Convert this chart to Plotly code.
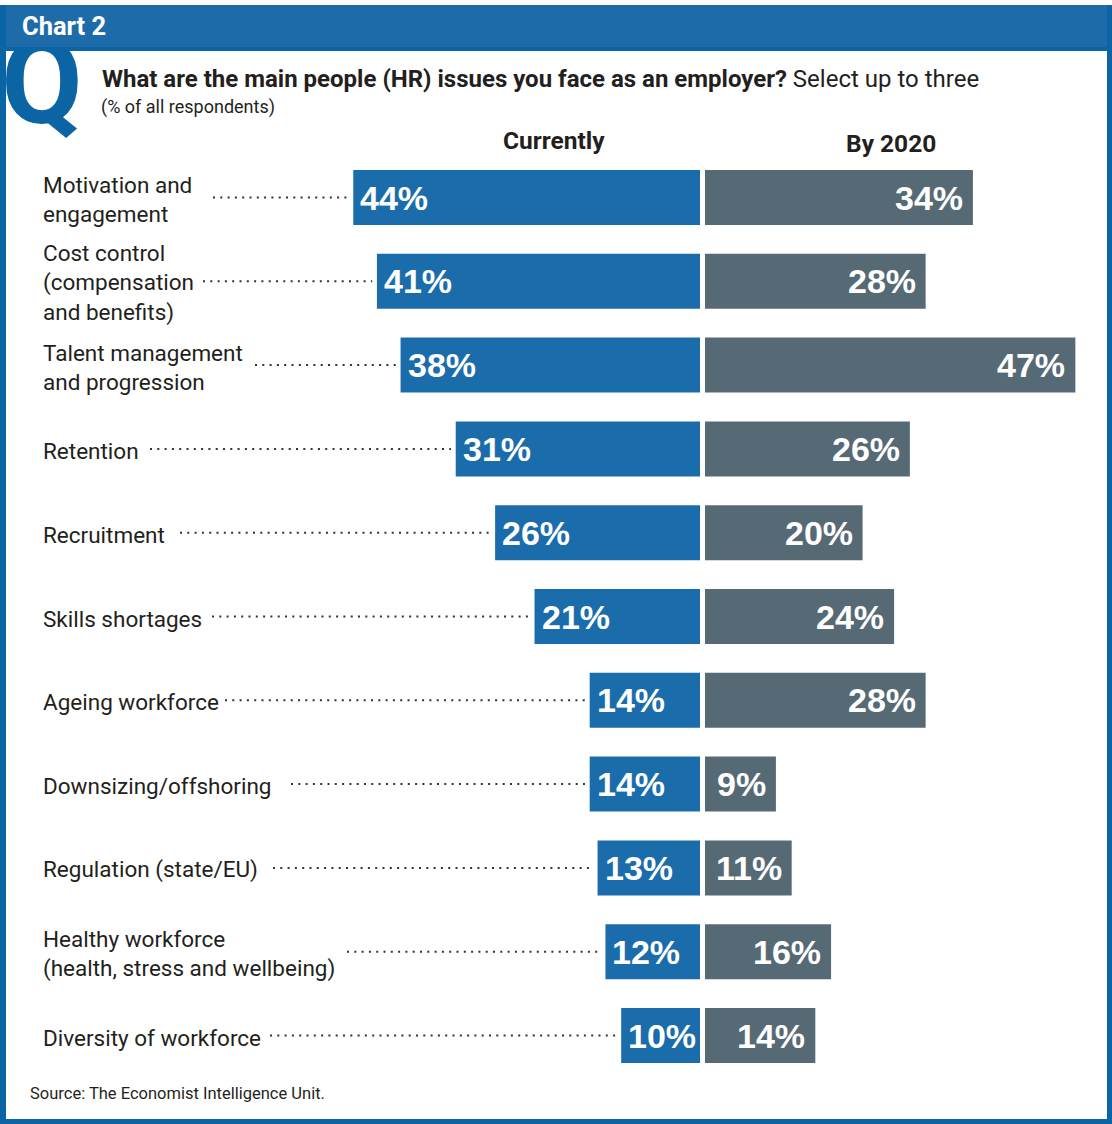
import plotly.graph_objects as go

# ---- data -----------------------------------------------------------------
categories = [
    "Motivation and<br>engagement",
    "Cost control<br>(compensation<br>and benefits)",
    "Talent management<br>and progression",
    "Retention",
    "Recruitment",
    "Skills shortages",
    "Ageing workforce",
    "Downsizing/offshoring",
    "Regulation (state/EU)",
    "Healthy workforce<br>(health, stress and wellbeing)",
    "Diversity of workforce",
]
currently = [44, 41, 38, 31, 26, 21, 14, 14, 13, 12, 10]
by_2020 = [34, 28, 47, 26, 20, 24, 28, 9, 11, 16, 14]
series_names = ["Currently", "By 2020"]

# ---- geometry / style -----------------------------------------------------
W, H = 1112, 1124
CENTER_L, CENTER_R = 700, 705       # inner edges of the two bar columns (px)
PX_PER_PCT = 7.88
ROW0, ROW_STEP, BAR_PX = 197.5, 83.8, 55
LABEL_X = 41
LEADER_START = [213, 203, 255, 150, 180, 212, 225, 291, 273, 347, 270]

BLUE = "#1b6caa"
GREY = "#566a76"
HEADER = "#1d6ca9"
FRAME = "#0b65a4"
TEXT = "#231f20"

LABEL_FONT = "Roboto"
VALUE_FONT = "Liberation Sans"


def px_x(px):
    return px / W


def px_y(px):
    return 1 - px / H


left_range = [CENTER_L / PX_PER_PCT, 0]
right_range = [0, (W - CENTER_R) / PX_PER_PCT]
y_range = [(H - ROW0) / ROW_STEP, -ROW0 / ROW_STEP]
rows = list(range(len(categories)))
bar_w = BAR_PX / ROW_STEP


def left_units(px):
    return (CENTER_L - px) / PX_PER_PCT


fig = go.Figure()

# big "Q" drawn as a trace so the header band can sit on top of it
fig.add_trace(go.Scatter(
    x=[42], y=[93], mode="text", text=["Q"],
    textfont=dict(family="Roboto", size=118, color=FRAME, weight="bold"),
    xaxis="x3", yaxis="y3", hoverinfo="skip", showlegend=False,
))

fig.add_trace(go.Bar(
    x=currently, y=rows, orientation="h", name=series_names[0],
    marker=dict(color=BLUE, line=dict(width=0)), width=bar_w,
    xaxis="x", yaxis="y", hoverinfo="skip", showlegend=False,
))
fig.add_trace(go.Bar(
    x=by_2020, y=rows, orientation="h", name=series_names[1],
    marker=dict(color=GREY, line=dict(width=0)), width=bar_w,
    xaxis="x2", yaxis="y", hoverinfo="skip", showlegend=False,
))

shapes = []
annotations = []

# dotted leaders from each label to its bar
for i, (cat, v) in enumerate(zip(categories, currently)):
    shapes.append(dict(
        type="line", xref="x", yref="y",
        x0=left_units(LEADER_START[i]), x1=v + 0.6, y0=i, y1=i,
        line=dict(color="#333333", width=2, dash="2px,5.3px"),
    ))
    annotations.append(dict(
        text=cat, xref="paper", yref="y", x=px_x(LABEL_X), y=i,
        xanchor="left", yanchor="middle", align="left", showarrow=False,
        yshift=-2,
        font=dict(family=LABEL_FONT, size=22.5, color=TEXT),
    ))

# value labels inside the bars
VALUE_SIZE = 34
for i, v in enumerate(currently):
    annotations.append(dict(
        text=f"{v}%", xref="x", yref="y", x=v, y=i,
        xanchor="left", yanchor="middle", xshift=5, showarrow=False,
        font=dict(family=VALUE_FONT, size=VALUE_SIZE, color="white", weight="bold"),
    ))
for i, v in enumerate(by_2020):
    annotations.append(dict(
        text=f"{v}%", xref="x2", yref="y", x=v, y=i,
        xanchor="right", yanchor="middle", xshift=-8, showarrow=False,
        font=dict(family=VALUE_FONT, size=VALUE_SIZE, color="white", weight="bold"),
    ))

# column headings
annotations.append(dict(
    text=f"<b>{series_names[0]}</b>", xref="paper", yref="paper",
    x=px_x(554), y=px_y(140), xanchor="center", yanchor="middle",
    showarrow=False, font=dict(family=LABEL_FONT, size=24.5, color=TEXT),
))
annotations.append(dict(
    text=f"<b>{series_names[1]}</b>", xref="paper", yref="paper",
    x=px_x(891), y=px_y(143), xanchor="center", yanchor="middle",
    showarrow=False, font=dict(family=LABEL_FONT, size=24.5, color=TEXT),
))

# header, question and source
annotations += [
    dict(text="<b>Chart 2</b>", xref="paper", yref="paper",
         x=px_x(20), y=px_y(26), xanchor="left", yanchor="middle",
         showarrow=False, font=dict(family=LABEL_FONT, size=25.5, color="white")),
    dict(text="<b>What are the main people (HR) issues you face as an employer?</b>"
              " Select up to three",
         xref="paper", yref="paper", x=px_x(100), y=px_y(79),
         xanchor="left", yanchor="middle", showarrow=False,
         font=dict(family=LABEL_FONT, size=24, color=TEXT)),
    dict(text="(% of all respondents)", xref="paper", yref="paper",
         x=px_x(99), y=px_y(107), xanchor="left", yanchor="middle",
         showarrow=False, font=dict(family=LABEL_FONT, size=18, color=TEXT)),
    dict(text="Source: The Economist Intelligence Unit.", xref="paper", yref="paper",
         x=px_x(28), y=px_y(1093), xanchor="left", yanchor="middle",
         showarrow=False, font=dict(family=LABEL_FONT, size=16.5, color=TEXT)),
]

# frame and header band
frame = [
    (0, 5, W, 47, HEADER),
    (0, 47, W, 51, FRAME),
    (0, 5, 6, H, FRAME),
    (W - 5, 5, W, H, FRAME),
    (0, H - 5, W, H, FRAME),
]
for x0, y0, x1, y1, c in frame:
    shapes.append(dict(
        type="rect", xref="paper", yref="paper", layer="above",
        x0=px_x(x0), x1=px_x(x1), y0=px_y(y1), y1=px_y(y0),
        fillcolor=c, line=dict(width=0),
    ))

hidden = dict(visible=False, fixedrange=True, showgrid=False, zeroline=False)
fig.update_layout(
    width=W, height=H,
    margin=dict(l=0, r=0, t=0, b=0, pad=0),
    paper_bgcolor="white", plot_bgcolor="rgba(0,0,0,0)",
    barmode="overlay", hovermode=False, showlegend=False,
    xaxis=dict(domain=[0, px_x(CENTER_L)], range=left_range, anchor="y", **hidden),
    xaxis2=dict(domain=[px_x(CENTER_R), 1], range=right_range, anchor="y", **hidden),
    yaxis=dict(domain=[0, 1], range=y_range, anchor="x", **hidden),
    xaxis3=dict(domain=[0, 1], range=[0, W], anchor="y3", **hidden),
    yaxis3=dict(domain=[0, 1], range=[H, 0], anchor="x3", **hidden),
    shapes=shapes, annotations=annotations,
)

fig.write_html("out.html", config={"displayModeBar": False})
